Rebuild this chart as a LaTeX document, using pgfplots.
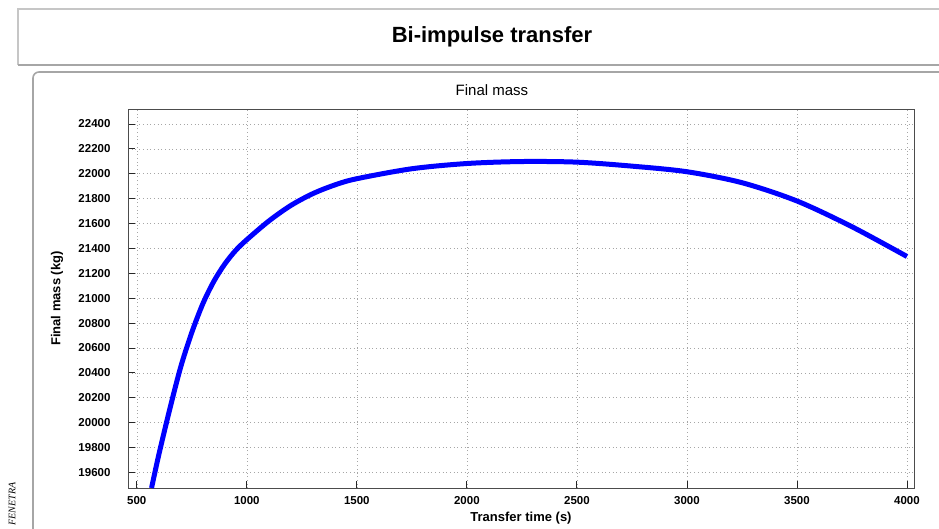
\documentclass[border=0pt]{standalone}
\usepackage{pgfplots}
\pgfplotsset{compat=1.18}
\usepackage{fontspec}
\setmainfont{Liberation Sans}
\newfontfamily\seriffont{Liberation Serif}
\begin{document}
\begin{tikzpicture}[x=1pt,y=1pt]
\path[use as bounding box] (0,0) rectangle (939,528);
% title box
\draw[gray!45, line width=1.2pt] (18,463) -- (18,519) -- (945,519);
\draw[gray!70, line width=1.6pt] (18,463) -- (945,463);
\node[font=\bfseries\fontsize{22}{26}\selectfont] at (492,491) {Bi-impulse transfer};
% plot box
\draw[gray!70, line width=1.6pt] (945,456) -- (39,456) arc[start angle=90,end angle=180,radius=6] -- (33,-5);
\node[font=\fontsize{15}{18}\selectfont] at (492,438) {Final mass};
\node[font=\seriffont\itshape\fontsize{10}{12}\selectfont, rotate=90] at (12,24) {FENETRA};
\begin{axis}[
  at={(128pt,40pt)}, anchor=south west,
  scale only axis, width=786pt, height=379pt,
  xmin=460, xmax=4032, ymin=19475, ymax=22520,
  xtick={500,1000,...,4000},
  ytick={19600,19800,...,22400},
  scaled y ticks=false, scaled x ticks=false,
  xtick pos=lower, ytick pos=left,
  tick align=inside, major tick length=7pt,
  tick style={gray!30!black, line width=0.8pt},
  axis line style={gray!60!black, line width=0.8pt},
  grid=major,
  grid style={gray!70, line width=0.6pt, dash pattern=on 0.7pt off 3pt},
  /pgf/number format/assume math mode=true,
  /pgf/number format/set thousands separator={},
  ticklabel style={font=\bfseries\fontsize{11.5}{13}\selectfont},
  yticklabel style={xshift=-14pt},
  xticklabel style={yshift=-5pt},
  xlabel={Transfer time (s)},
  ylabel={Final mass (kg)},
  label style={font=\bfseries\fontsize{13}{15}\selectfont},
  xlabel style={at={(axis description cs:0.5,-0.0784)}, anchor=center},
  ylabel style={at={(axis description cs:-0.0903,0.5)}, anchor=center},
]
\addplot[blue, line width=5pt, smooth, tension=0.5] coordinates {
(567,19475) (600,19742) (650,20110) (700,20450) (750,20725) (800,20955)
(850,21135) (900,21275) (950,21385) (1000,21470) (1100,21620) (1200,21745)
(1300,21840) (1400,21910) (1500,21960) (1750,22040) (2000,22082)
(2250,22098) (2500,22093) (2750,22061) (3000,22016) (3250,21928)
(3500,21781) (3750,21574) (4000,21335)
};
\end{axis}
\end{tikzpicture}
\end{document}
